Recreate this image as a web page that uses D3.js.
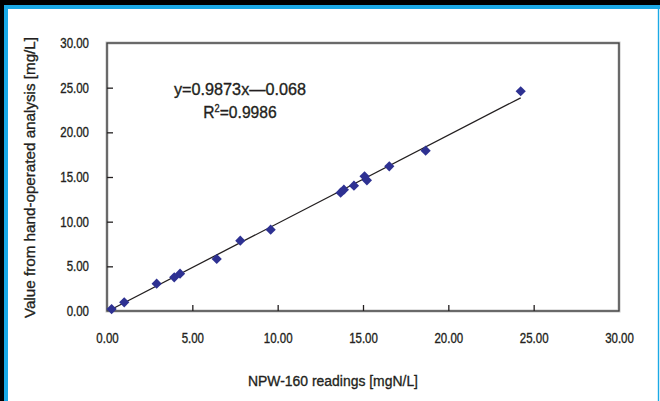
<!DOCTYPE html>
<html><head><meta charset="utf-8">
<script src="https://cdn.jsdelivr.net/npm/d3@7"></script>
<style>
html,body{margin:0;padding:0;background:#000;}
svg{display:block;}
text{font-family:"Liberation Sans",Arial,sans-serif;fill:#231f20;stroke:#231f20;stroke-width:0.35px;}
</style></head>
<body>
<svg id="c" width="660" height="401"></svg>
<script>
// Data
const xValues = [0.27, 1.01, 2.91, 3.94, 4.28, 6.43, 7.81, 9.59, 13.69, 13.88, 14.47, 15.09, 15.23, 16.54, 18.67, 24.24];
const yValues = [0.22, 0.97, 3.06, 3.77, 4.18, 5.82, 7.87, 9.10, 13.25, 13.58, 14.03, 15.08, 14.63, 16.20, 17.95, 24.60];
const tickValues = [0, 5, 10, 15, 20, 25, 30];
const slope = 0.9873, intercept = -0.068;
const equationText = "y=0.9873x\u20140.068";
const r2Text = "0.9986";
const xTitle = "NPW-160 readings [mgN/L]";
const yTitle = "Value from hand-operated analysis [mg/L]";

const svg = d3.select("#c");
function condense(sel, k){
  sel.each(function(){ const n=this; const L=n.getComputedTextLength(); d3.select(n).attr("textLength",L*k).attr("lengthAdjust","spacingAndGlyphs"); });
}
// frame
svg.append("rect").attr("x",0).attr("y",0).attr("width",660).attr("height",401).attr("fill","#000");
svg.append("rect").attr("x",4).attr("y",5).attr("width",656).attr("height",396).attr("fill","#1ba9e6");
svg.append("rect").attr("x",8).attr("y",9).attr("width",649.8).attr("height",392).attr("fill","#fff");
svg.append("rect").attr("x",659.2).attr("y",9).attr("width",0.8).attr("height",392).attr("fill","#fff");

const x = d3.scaleLinear().domain([0,30]).range([107,619]);
const y = d3.scaleLinear().domain([0,30]).range([311,43]);

// plot frame
svg.append("rect").attr("x",107).attr("y",43).attr("width",512).attr("height",268)
  .attr("fill","none").attr("stroke","#c4c4c4").attr("stroke-width",3);
svg.append("rect").attr("x",107).attr("y",43).attr("width",512).attr("height",268)
  .attr("fill","none").attr("stroke","#3a3a3a").attr("stroke-width",1.3);

const fmt = d3.format(".2f");
// axes
const xAxis = svg.append("g").attr("transform","translate(0,311)")
  .call(d3.axisBottom(x).tickValues(tickValues).tickFormat(fmt).tickSizeInner(-6).tickSizeOuter(0).tickPadding(22));
const yAxis = svg.append("g").attr("transform","translate(107,0)")
  .call(d3.axisLeft(y).tickValues(tickValues).tickFormat(fmt).tickSizeInner(-6).tickSizeOuter(0).tickPadding(18));
[xAxis,yAxis].forEach(g=>{
  g.select(".domain").remove();
  g.selectAll(".tick line").attr("stroke","#231f20").attr("stroke-width",1.3);
  g.selectAll(".tick text").style("font-size","14px").attr("fill","#231f20")
    .style("font-family",'"Liberation Sans",Arial,sans-serif');
  condense(g.selectAll(".tick text"), 0.82);
});
xAxis.selectAll(".tick").filter(d=>d===0||d===30).select("line").remove();
yAxis.selectAll(".tick").filter(d=>d===0||d===30).select("line").remove();

// regression line
const x0 = d3.min(xValues), x1 = d3.max(xValues);
svg.append("line")
  .attr("x1",x(x0)).attr("y1",y(slope*x0+intercept))
  .attr("x2",x(x1)).attr("y2",y(slope*x1+intercept))
  .attr("stroke","#231f20").attr("stroke-width",1.3);

// points
const sym = d3.symbol().type(d3.symbolSquare).size(52);
svg.append("g").selectAll("path").data(xValues.map((v,i)=>[v,yValues[i]])).join("path")
  .attr("d",sym).attr("transform",d=>`translate(${x(d[0])},${y(d[1])}) rotate(45)`)
  .attr("fill","#2e3192");

// equation
const eq = svg.append("text").attr("x",174).attr("y",95).attr("text-anchor","start")
  .style("font-size","17px").text(equationText);
eq.attr("textLength",132).attr("lengthAdjust","spacingAndGlyphs");
const rg = svg.append("g").attr("transform","translate(240,118) scale(0.92,1)");
const r = rg.append("text").attr("x",0).attr("y",0).attr("text-anchor","middle").style("font-size","17px");
r.append("tspan").text("R");
r.append("tspan").attr("dy",-6).style("font-size","10px").text("2");
r.append("tspan").attr("dy",6).style("font-size","17px").text("=" + r2Text);

// axis titles
const xt = svg.append("text").attr("x",248).attr("y",386).attr("text-anchor","start")
  .style("font-size","15.5px").text(xTitle);
xt.attr("textLength",170).attr("lengthAdjust","spacingAndGlyphs");
const yt = svg.append("text").attr("transform","translate(35,318) rotate(-90)").attr("text-anchor","start")
  .style("font-size","15.5px").text(yTitle);
yt.attr("textLength",281).attr("lengthAdjust","spacingAndGlyphs");
</script>
</body></html>
